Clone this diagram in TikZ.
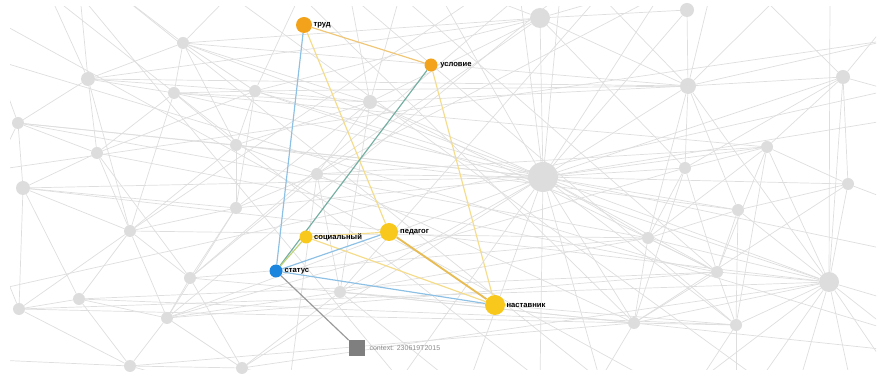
\documentclass[tikz,border=0pt]{standalone}
\usepackage{fontspec}
\setmainfont{Liberation Sans}
\usetikzlibrary{positioning}
\definecolor{bgnode}{HTML}{DDDDDD}
\definecolor{bgline}{HTML}{DEDEDE}
\definecolor{orangec}{HTML}{F2A31B}
\definecolor{yellowc}{HTML}{F8C81C}
\definecolor{bluec}{HTML}{1C86DE}
\definecolor{eorange}{HTML}{F0C677}
\definecolor{eblue}{HTML}{8CC0E4}
\definecolor{eyellow}{HTML}{F5DC8A}
\definecolor{eteal}{HTML}{74AFA2}
\definecolor{egreen}{HTML}{BFD27A}
\definecolor{epn}{HTML}{E8BC55}
\definecolor{ectx}{HTML}{9A9A9A}
\definecolor{ctxc}{HTML}{7F7F7F}
\pgfdeclarelayer{bgl}
\pgfdeclarelayer{bgn}
\pgfdeclarelayer{fgl}
\pgfsetlayers{bgl,bgn,fgl,main}
\begin{document}
\begin{tikzpicture}[x=0.03cm, y=-0.03cm,
  bg/.style={circle, fill=bgnode, inner sep=0pt, minimum size=#1*0.03cm},
  dot/.style args={#1/#2}{circle, fill=#1, inner sep=0pt, minimum size=#2*0.03cm},
  lbl/.style={inner sep=0pt, font=\fontsize{6.5}{7}\selectfont\bfseries},
  bgedge/.style={bgline, line width=0.6pt},
  fgedge/.style={#1, line width=1pt}]
\useasboundingbox (0,0) rectangle (885,376);

\begin{pgfonlayer}{bgn}
\foreach \n/\x/\y/\d in {g1/540/18/20, g2/687/10/14, g3/688/86/16, g4/843/77/14,
  g5/767/147/12, g6/685/168/12, g7/848/184/12, g8/543/177/30, g9/183/43/12,
  g10/88/79/14, g11/174/93/12, g12/255/91/12, g13/18/123/12, g14/97/153/12,
  g15/236/145/12, g16/23/188/14, g17/236/208/12, g18/130/231/12, g19/190/278/12,
  g20/79/299/12, g21/19/309/12, g22/167/318/12, g23/130/366/12, g24/242/368/12,
  g25/738/210/12, g26/648/238/12, g27/717/272/12, g28/829/282/20, g29/634/323/12,
  g30/736/325/12, g31/340/292/12, g32/370/102/14, g33/317/174/12}
  \node[bg=\d] (\n) at (\x,\y) {};
\end{pgfonlayer}

\foreach \n/\x/\y in {o1/470/380, o2/600/380, o3/560/-5, o4/520/-5, o5/890/120,
  o6/890/250, o7/890/330, o8/890/372, o9/760/380, o10/800/380, o11/850/380,
  o12/700/380, o13/890/300, o14/600/-5, o15/780/-5, o16/890/40, o17/890/20,
  o18/760/-5, o19/890/200, o20/736/380, o21/480/-5, o22/620/-5, o23/400/-5,
  o24/300/-5, o25/120/-5, o26/230/-5, o27/50/-5, o28/80/-5, o29/-5/60,
  o30/-5/250, o31/-5/360, o32/450/380, o33/890/350, o34/350/-5, o35/660/-5,
  o36/180/380, o37/290/380, o38/540/380, o39/890/90, o40/-5/170, o41/-5/20,
  o42/-5/290, o43/400/380, o44/650/380, o45/440/-5, o46/710/-5, o47/830/-5}
  \coordinate (\n) at (\x,\y);

\begin{pgfonlayer}{bgl}
\begin{scope}
\clip (10,7) rectangle (876,370);
\foreach \a/\b in {g8/g1, g8/g3, g8/g4, g8/g5, g8/g6, g8/g7, g8/g25, g8/g26,
  g8/g27, g8/g28, g8/g29, g8/g30, g8/g32, g8/g33, g8/g12, g8/g15, g8/g17,
  g8/g31, g8/g22, g8/g24, g8/g2, g8/g9, g8/g11, g8/o1, g8/o2, g8/o3, g8/o4,
  g8/o5, g8/o6, g8/g13, g8/g16, g8/o38, g8/o35, g8/o43, g8/o45,
  g28/g4, g28/g5, g28/g25, g28/g26, g28/g27, g28/g29, g28/g30, g28/o7, g28/o8,
  g28/o9, g28/o10, g28/o11, g28/o12, g28/o13, g28/g3, g28/g7, g28/g12,
  g28/g16, g28/g21, g28/g24, g28/o47,
  g3/g1, g3/g2, g3/g4, g3/g6, g3/g25, g3/g12, g3/g32, g3/o14, g3/o15, g3/o16,
  g3/g10, g3/g26, g3/g9, g3/o46,
  g4/g7, g4/o17, g4/o18, g4/g6, g4/g5, g4/o39,
  g5/g6, g5/g7, g5/g26, g5/g27, g5/g30, g5/g33, g5/g11,
  g6/g26, g6/g29, g6/g27, g6/g1, g6/g22,
  g7/g25, g7/o19, g7/g29,
  g25/g27, g25/g30, g25/g26, g25/g15,
  g26/g29, g26/g27, g26/g31, g26/g19, g26/g18, g26/g13,
  g27/g30, g27/g29, g27/g22, g27/g32, g27/g20, g27/g14, g27/o23,
  g29/o2, g29/g31, g29/g30, g29/g21, g29/g33, g29/g23, g29/o24,
  g30/o20, g30/o12, g30/g31, g30/g20, g30/o34,
  g1/g32, g1/g12, g1/g2, g1/o21, g1/o22, g1/g9, g1/g33, g1/g10,
  g32/g12, g32/g33, g32/g15, g32/g9, g32/g11, g32/o23, g32/g31, g32/o34, g32/g17,
  g33/g15, g33/g17, g33/g31, g33/g19, g33/o37, g33/o35,
  g12/g11, g12/g9, g12/g15, g12/g17, g12/o24, g12/g14,
  g9/g11, g9/g10, g9/o25, g9/o26, g9/g15,
  g10/g13, g10/g14, g10/g11, g10/o27, g10/o28, g10/g18, g10/g12,
  g11/g14, g11/g15, g11/g18,
  g13/g16, g13/g14, g13/o29, g13/g15, g13/o40,
  g14/g16, g14/g18, g14/g19,
  g15/g17, g15/g18,
  g16/g21, g16/g18, g16/g17,
  g17/g18, g17/g19, g17/g22,
  g18/g20, g18/g19, g18/g22, g18/g21,
  g19/g22, g19/g31, g19/g24, g19/o4,
  g20/g21, g20/g22, g20/g23, g20/g16,
  g21/g23, g21/o30, g22/g23, g22/g24, g22/g31, g22/o3, g18/o21,
  g23/g24, g23/o31, g23/o36, g24/g31, g31/o32, g31/o33, g24/o37, g31/o14,
  o25/o2, o27/o38, o29/o7, o41/o44, o42/o39, o26/o9, o28/o43, o40/o16}
  \draw[bgedge] (\a) -- (\b);
\end{scope}
\end{pgfonlayer}

\node[dot=orangec/16] (trud) at (304,25) {};
\node[dot=orangec/13] (usl) at (431,65) {};
\node[dot=yellowc/13] (soc) at (306,237) {};
\node[dot=yellowc/18] (ped) at (389,232) {};
\node[dot=bluec/13] (stat) at (276,271) {};
\node[dot=yellowc/20] (nast) at (495,305) {};
\node[fill=ctxc, inner sep=0pt, minimum size=16*0.03cm] (ctx) at (357,348) {};

\node[lbl, right=1pt of trud] (trudl) {труд};
\node[lbl, right=2pt of usl] (usll) {условие};
\node[lbl, right=1pt of soc] (socl) {социальный};
\node[lbl, right=1.5pt of ped] (pedl) {педагог};
\node[lbl, right=1.5pt of stat] (statl) {статус};
\node[lbl, right=1pt of nast] (nastl) {наставник};
\node[inner sep=0pt, right=3.5pt of ctx, text=ectx!90!black,
  font=\fontsize{6}{7}\selectfont] (ctxl) {context: 230619T2015};

\begin{pgfonlayer}{fgl}
\draw[fgedge=eorange] (trud) -- (usl);
\draw[fgedge=eblue] (trud) -- (stat);
\draw[fgedge=eyellow] (trud) -- (ped);
\draw[fgedge=eteal] (usl) -- (stat);
\draw[fgedge=eyellow] (usl) -- (nast);
\draw[fgedge=egreen] (soc) -- (stat);
\draw[fgedge=eyellow] (soc) -- (ped);
\draw[fgedge=eyellow] (soc) -- (nast);
\draw[fgedge=eblue] (stat) -- (ped);
\draw[fgedge=eblue] (stat) -- (nast);
\draw[epn, line width=1.6pt] (ped) -- (nast);
\draw[fgedge=ectx] (stat) -- (ctx);
\end{pgfonlayer}
\end{tikzpicture}
\end{document}
